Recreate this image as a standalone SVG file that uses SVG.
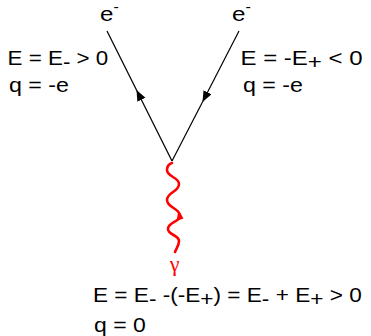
<svg xmlns="http://www.w3.org/2000/svg" width="371" height="336" viewBox="0 0 371 336">
<style>
.t{font-family:"Liberation Sans",Arial,sans-serif;font-size:20px;fill:#000}
.lab{font-family:"Liberation Sans",Arial,sans-serif;font-size:21px;fill:#000}
.sup{font-size:14px}
.ln{stroke:#000;stroke-width:1.2;fill:none}
.wave{stroke:#f00;stroke-width:2.6;fill:none;stroke-linecap:round}
.gam{font-family:"Liberation Serif","Times New Roman",serif;font-size:22px;fill:#f00}
</style>
<defs>
<marker id="ah" markerUnits="userSpaceOnUse" markerWidth="12" markerHeight="10" refX="11" refY="4.5" orient="auto">
<path d="M0,0 L11,4.5 L0,9 z" fill="#000"/>
</marker>
</defs>
<g id="connectors">
<path class="ln" d="M172,161 L136.5,90" marker-end="url(#ah)"/>
<path class="ln" d="M136.5,90 L107,31"/>
<path class="ln" d="M239,31 L202.5,102" marker-end="url(#ah)"/>
<path class="ln" d="M202.5,102 L172,161"/>
<path class="wave" d="M172,163 C169,164 167,167 167,170 C167,177 179,177 179,184 C179,192 167,192 167,200 C167,208 180,208 180,216 C180,222 168,222 168,229 C168,235 179,235 179,241 C179,246 176,249 175,252"/>
<polygon points="178.5,210 183.5,218.5 176.5,221" fill="#f00"/>
</g>
<g id="electron-left">
<text class="lab" transform="translate(100,21) scale(1.15,1)">e<tspan class="sup" dy="-9.5">-</tspan></text>
<text class="t" transform="translate(7.5,65) scale(1.12,1)">E = E<tspan dy="4">-</tspan><tspan dy="-4"> &gt; 0</tspan></text>
<text class="t" transform="translate(9,92) scale(1.16,1)">q = -e</text>
</g>
<g id="electron-right">
<text class="lab" transform="translate(232,21) scale(1.15,1)">e<tspan class="sup" dy="-9.5">-</tspan></text>
<text class="t" transform="translate(240.5,65) scale(1.2,1)">E = -E<tspan dy="4">+</tspan><tspan dy="-4"> &lt; 0</tspan></text>
<text class="t" transform="translate(243,92) scale(1.16,1)">q = -e</text>
</g>
<g id="photon">
<text class="gam" x="174.5" y="271" text-anchor="middle">γ</text>
<text class="t" transform="translate(93,302) scale(1.13,1)">E = E<tspan dy="4">-</tspan><tspan dy="-4"> -(-E</tspan><tspan dy="4">+</tspan><tspan dy="-4">) = E</tspan><tspan dy="4">-</tspan><tspan dy="-4"> + E</tspan><tspan dy="4">+</tspan><tspan dy="-4"> &gt; 0</tspan></text>
<text class="t" transform="translate(94,332) scale(1.15,1)">q = 0</text>
</g>
</svg>
